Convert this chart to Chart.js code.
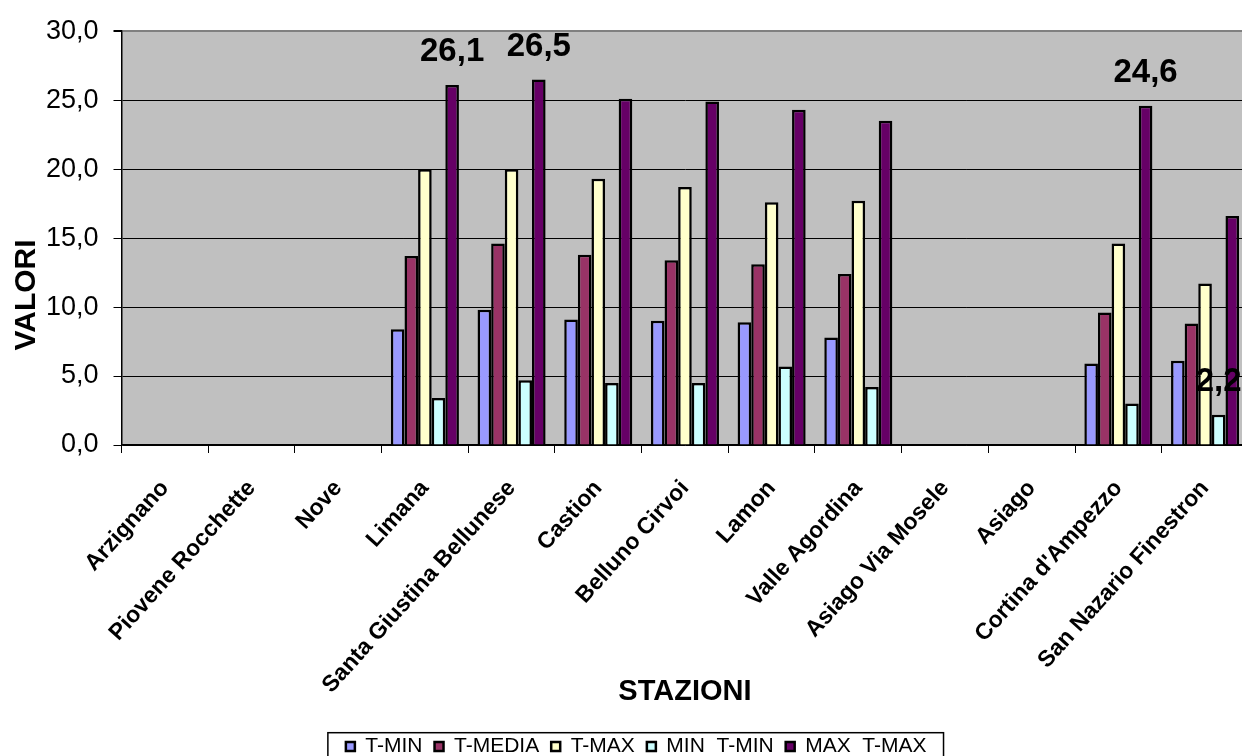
<!DOCTYPE html>
<html>
<head>
<meta charset="utf-8">
<script src="https://cdn.jsdelivr.net/npm/chart.js@4/dist/chart.umd.min.js"></script>
<style>
html, body { margin: 0; padding: 0; background: #fff; overflow: hidden; }
#wrap { position: relative; width: 1250px; height: 756px; }
</style>
</head>
<body>
<div id="wrap"><canvas id="chart"></canvas></div>
<script>
var stazioni = ['Arzignano', 'Piovene Rocchette', 'Nove', 'Limana', 'Santa Giustina Bellunese', 'Castion',
    'Belluno Cirvoi', 'Lamon', 'Valle Agordina', 'Asiago Via Mosele', 'Asiago', "Cortina d'Ampezzo", 'San Nazario Finestron'];

var tMin     = [null, null, null, 8.4, 9.8, 9.1, 9.0, 8.9, 7.8, null, null, 5.9, 6.1];
var tMedia   = [null, null, null, 13.7, 14.6, 13.8, 13.4, 13.1, 12.4, null, null, 9.6, 8.8];
var tMax     = [null, null, null, 20.0, 20.0, 19.3, 18.7, 17.6, 17.7, null, null, 14.6, 11.7];
var minTMin  = [null, null, null, 3.4, 4.7, 4.5, 4.5, 5.7, 4.2, null, null, 3.0, 2.2];
var maxTMax  = [null, null, null, 26.1, 26.5, 25.1, 24.9, 24.3, 23.5, null, null, 24.6, 16.6];

var serie = ['T-MIN', 'T-MEDIA', 'T-MAX', 'MIN  T-MIN', 'MAX  T-MAX'];
var colori = ['#9999FF', '#993366', '#FFFFCC', '#CCFFFF', '#660066'];

// [dataset, station] pairs that carry a value label
var etichette = [[4, 3], [4, 4], [4, 11], [3, 12]];

var yTicks = [0, 5, 10, 15, 20, 25, 30];

function fmt(v) {
    return v.toFixed(1).replace('.', ',');
}

var font = "'Liberation Sans', Arial, sans-serif";

var plotBg = {
    id: 'plotBg',
    beforeDraw: function(chart) {
        var a = chart.chartArea, ctx = chart.ctx;
        ctx.save();
        ctx.fillStyle = '#C0C0C0';
        ctx.fillRect(a.left, a.top, a.right - a.left, a.bottom - a.top);
        ctx.restore();
    }
};

var extras = {
    id: 'extras',
    afterDraw: function(chart) {
        var ctx = chart.ctx;
        ctx.save();
        // value labels
        ctx.fillStyle = '#000';
        ctx.font = 'bold 33px ' + font;
        ctx.textAlign = 'center';
        ctx.textBaseline = 'middle';
        etichette.forEach(function(p) {
            var el = chart.getDatasetMeta(p[0]).data[p[1]];
            var v = chart.data.datasets[p[0]].data[p[1]];
            ctx.fillText(fmt(v), el.x, el.y - 33);
        });
        // y title
        ctx.save();
        ctx.translate(27, 295);
        ctx.rotate(-Math.PI / 2);
        ctx.font = 'bold 30px ' + font;
        ctx.fillText('VALORI', 0, 0);
        ctx.restore();
        // legend frame
        var lg = chart.legend;
        if (lg && lg.legendHitBoxes && lg.legendHitBoxes.length) {
            var hb = lg.legendHitBoxes;
            var first = hb[0], last = hb[hb.length - 1];
            var x0 = first.left - 18, x1 = last.left + last.width + 17;
            var y0 = lg.top + 8.7;
            ctx.strokeStyle = '#000';
            ctx.lineWidth = 1.5;
            ctx.strokeRect(x0, y0, x1 - x0, 60);
        }
        ctx.restore();
    }
};

var datasets = [tMin, tMedia, tMax, minTMin, maxTMax].map(function(d, i) {
    return {
        label: serie[i],
        data: d,
        backgroundColor: colori[i],
        borderColor: '#000',
        borderWidth: 2.5,
        categoryPercentage: 0.785,
        barPercentage: 1.0
    };
});

new Chart(document.getElementById('chart'), {
    type: 'bar',
    data: { labels: stazioni, datasets: datasets },
    options: {
        responsive: true,
        maintainAspectRatio: false,
        animation: false,
        events: [],
        layout: { padding: { left: 24, right: 1.6, top: 29, bottom: 0 } },
        plugins: {
            legend: {
                position: 'bottom',
                maxHeight: 32,
                labels: {
                    color: '#000',
                    font: { family: font, size: 21 },
                    boxWidth: 9,
                    boxHeight: 9,
                    padding: 12
                }
            },
            tooltip: { enabled: false }
        },
        scales: {
            x: {
                offset: true,
                grid: {
                    display: true,
                    drawOnChartArea: false,
                    drawTicks: true,
                    tickLength: 8,
                    color: '#000',
                    offset: true
                },
                border: { color: '#000', width: 1.5 },
                ticks: {
                    color: '#000',
                    font: { family: font, size: 23, weight: 'bold' },
                    minRotation: 48,
                    maxRotation: 48,
                    autoSkip: false,
                    padding: 22
                },
                title: {
                    display: true,
                    text: 'STAZIONI',
                    color: '#000',
                    font: { family: font, size: 29, weight: 'bold', lineHeight: 1.2 },
                    padding: { top: 0, bottom: 15 }
                },
                afterFit: function(s) { s.height = 279; }
            },
            y: {
                min: 0,
                max: 30,
                afterBuildTicks: function(s) {
                    s.ticks = yTicks.map(function(v) { return { value: v }; });
                },
                grid: {
                    color: function(c) { return c.tick && c.tick.value === 30 ? '#808080' : '#000'; },
                    lineWidth: function(c) { return c.tick && c.tick.value === 30 ? 2 : 1; },
                    tickColor: '#000',
                    tickLength: 8
                },
                border: { color: '#000', width: 1.5 },
                ticks: {
                    color: '#000',
                    font: { family: font, size: 27 },
                    padding: 15,
                    callback: function(v) { return fmt(v); }
                },
                afterFit: function(s) { s.width = 97.5; }
            }
        }
    },
    plugins: [plotBg, extras]
});
</script>
</body>
</html>
